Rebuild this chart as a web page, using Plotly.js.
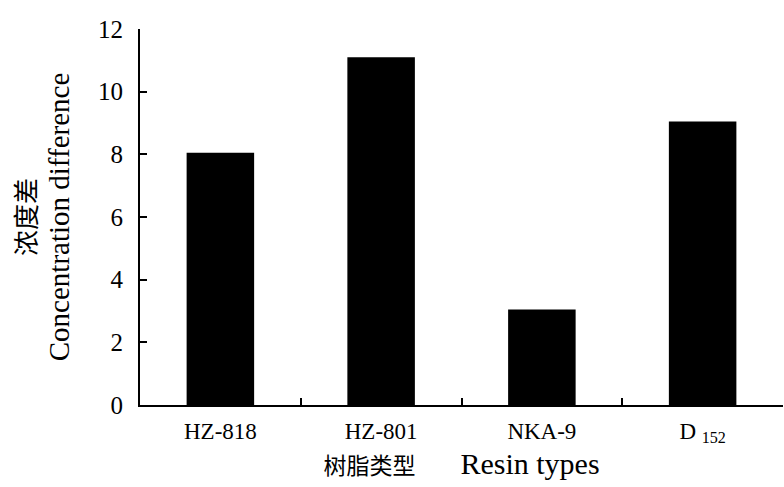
<!DOCTYPE html>
<html>
<head>
<meta charset="utf-8">
<script src="https://cdn.plot.ly/plotly-3.0.1.min.js"></script>
<style>html,body{margin:0;padding:0;background:#fff;}#chart{width:784px;height:487px;}</style>
</head>
<body>
<div id="chart"></div>
<script>
const categories = ["HZ-818", "HZ-801", "NKA-9", "D <sub>152</sub>"];
const values = [8.05, 11.1, 3.05, 9.05];
const yTicks = [0, 2, 4, 6, 8, 10, 12];
const yTitleZh = "浓度差";
const yTitleEn = "Concentration difference";
const xTitle = "<span style='font-size:23px'>树脂类型</span>\u00a0\u00a0\u00a0\u00a0\u00a0\u00a0Resin types";

const serif = "Liberation Serif, Times New Roman, Noto Sans CJK SC, serif";

const trace = {
  type: "bar",
  x: categories,
  y: values,
  marker: {color: "#000000", line: {width: 0}},
  hoverinfo: "none"
};

const layout = {
  width: 784, height: 487,
  margin: {l: 140, r: 1, t: 29, b: 82},
  paper_bgcolor: "#fff", plot_bgcolor: "#fff",
  showlegend: false,
  bargap: 0.58,
  font: {family: serif, color: "#000"},
  xaxis: {
    type: "category",
    showline: true, linecolor: "#000", linewidth: 2,
    ticks: "inside", tickson: "boundaries", ticklen: 7, tickwidth: 2, tickcolor: "#000",
    showgrid: false, zeroline: false,
    tickfont: {family: serif, size: 23, color: "#000"},
    ticklabelstandoff: 4,
    title: {text: xTitle, font: {family: serif, size: 30, color: "#000"}, standoff: 8}
  },
  yaxis: {
    range: [0, 12],
    tickvals: yTicks,
    ticktext: yTicks.map(String),
    showline: true, linecolor: "#000", linewidth: 2,
    ticks: "inside", ticklen: 7, tickwidth: 2, tickcolor: "#000",
    showgrid: false, zeroline: false,
    tickfont: {family: serif, size: 25, color: "#000"},
    ticklabelstandoff: 10,
    title: {text: yTitleEn, font: {family: serif, size: 29, color: "#000"}, standoff: 20}
  },
  annotations: [{
    text: yTitleZh, textangle: -90,
    xref: "paper", yref: "paper", x: 0, y: 0.5,
    xanchor: "center", yanchor: "middle",
    xshift: -116, showarrow: false,
    font: {family: "Noto Sans CJK SC, sans-serif", size: 26, color: "#000"}
  }]
};

Plotly.newPlot("chart", [trace], layout, {staticPlot: true, displayModeBar: false});
</script>
</body>
</html>
